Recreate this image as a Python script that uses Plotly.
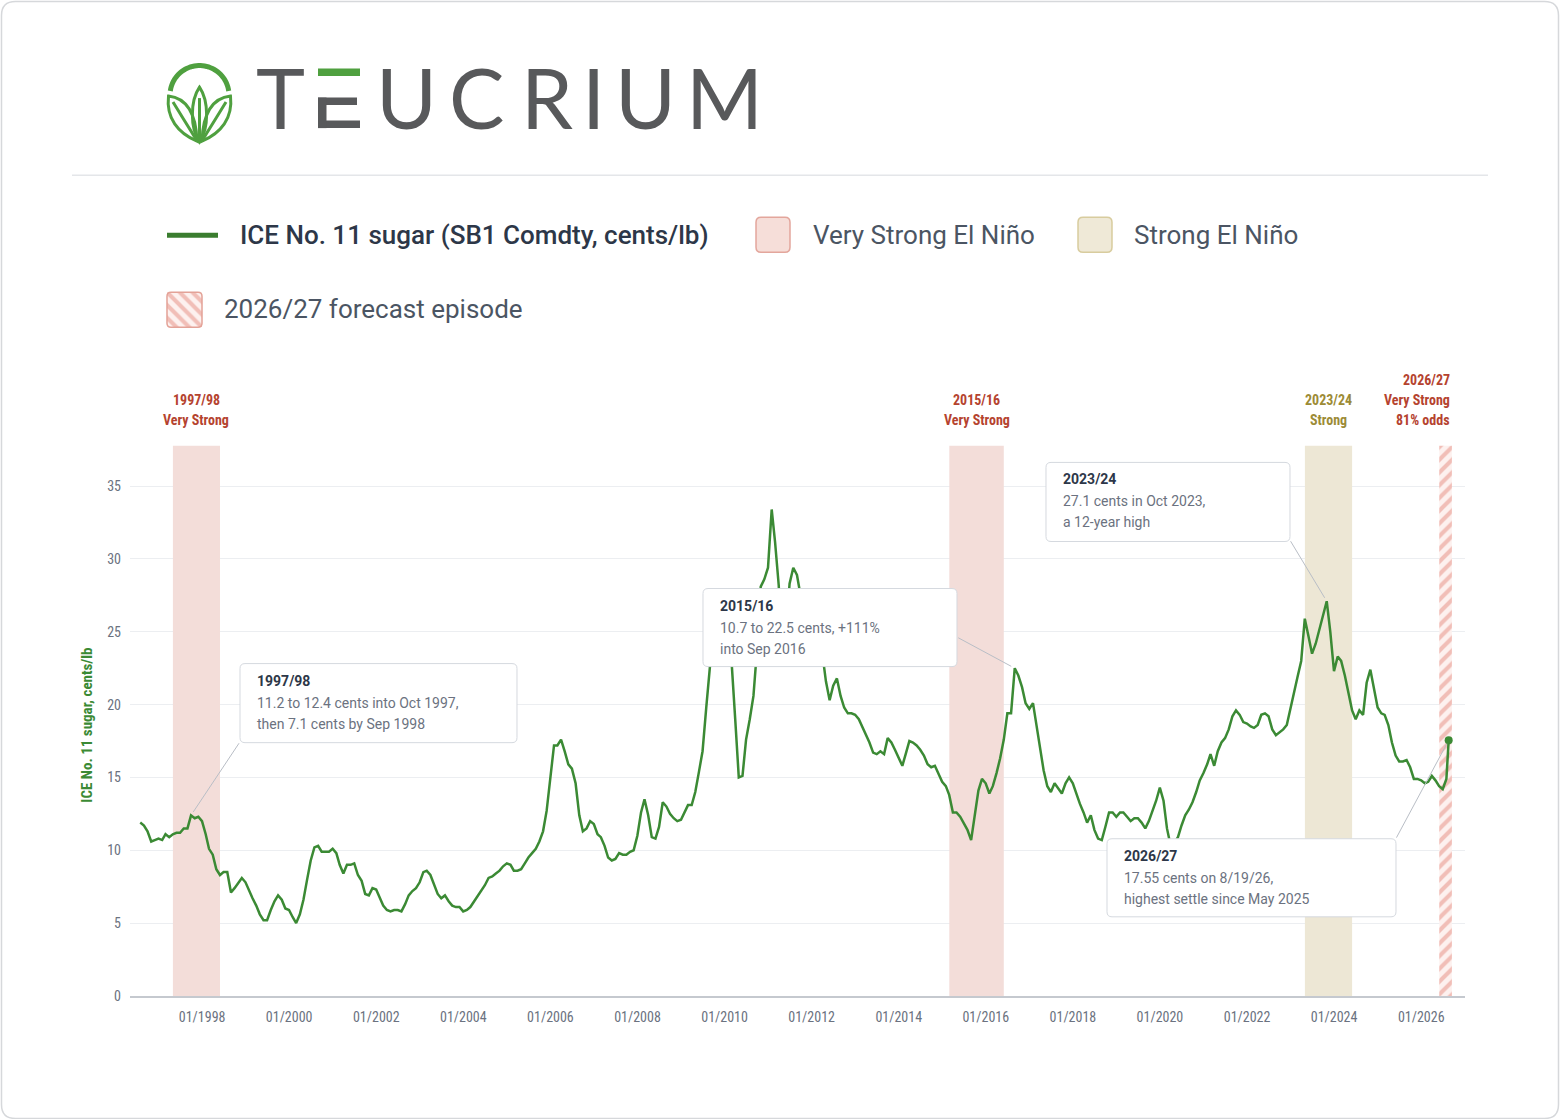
import math
import pandas as pd
import plotly.graph_objects as go

W, H = 1560, 1119
FIG_H = 1128  # the page snapshot comes out about 9px taller than the window; paper coords below use H

# ICE No. 11 sugar, month-end settles (cents/lb), Jul 1996 .. Jul 2026, one row per Jul-Jun crop year
sugar_monthly = [
    11.9, 11.7, 11.3, 10.6, 10.7, 10.8, 10.7, 11.1, 10.9, 11.1, 11.2, 11.2,
    11.5, 11.5, 12.4, 12.2, 12.3, 12.0, 11.1, 10.1, 9.7, 8.7, 8.3, 8.5,
    8.5, 7.1, 7.4, 7.8, 8.1, 7.8, 7.2, 6.7, 6.2, 5.6, 5.2, 5.2,
    5.9, 6.5, 6.9, 6.6, 6.0, 5.9, 5.4, 5.0, 5.6, 6.6, 8.0, 9.3,
    10.2, 10.3, 9.9, 9.9, 9.9, 10.1, 9.8, 9.0, 8.4, 9.0, 9.0, 9.1,
    8.3, 7.9, 7.0, 6.9, 7.4, 7.3, 6.7, 6.2, 5.9, 5.8, 5.9, 5.9,
    5.8, 6.3, 6.9, 7.2, 7.4, 7.8, 8.5, 8.6, 8.3, 7.6, 7.0, 6.7,
    6.9, 6.5, 6.2, 6.1, 6.1, 5.8, 5.9, 6.1, 6.5, 6.8, 7.2, 7.6,
    8.1, 8.2, 8.4, 8.6, 8.9, 9.1, 9.0, 8.6, 8.6, 8.7, 9.1, 9.5,
    9.8, 10.1, 10.6, 11.3, 12.7, 15.0, 17.2, 17.2, 17.6, 16.8, 15.9, 15.6,
    14.6, 12.4, 11.3, 11.5, 12.0, 11.8, 11.1, 10.9, 10.3, 9.5, 9.3, 9.4,
    9.8, 9.7, 9.7, 9.9, 10.0, 11.0, 12.6, 13.5, 12.4, 10.9, 10.8, 11.6,
    13.3, 13.0, 12.5, 12.2, 12.0, 12.1, 12.6, 13.1, 13.1, 14.0, 15.4, 16.8,
    19.8, 22.6, 24.5, 26.0, 27.0, 26.5, 25.0, 23.0, 19.0, 15.0, 15.1, 17.6,
    19.0, 20.6, 23.8, 28.1, 28.6, 29.4, 33.4, 31.2, 28.2, 23.0, 25.0, 28.3,
    29.4, 28.9, 27.5, 26.0, 26.5, 24.0, 23.5, 24.5, 23.5, 21.6, 20.3, 21.3,
    21.8, 20.6, 19.8, 19.4, 19.4, 19.3, 19.0, 18.5, 18.0, 17.4, 16.7, 16.6,
    16.8, 16.6, 17.7, 17.4, 16.9, 16.3, 15.8, 16.6, 17.5, 17.4, 17.2, 16.9,
    16.5, 15.9, 15.7, 15.8, 15.3, 14.7, 14.4, 13.8, 12.6, 12.6, 12.3, 11.9,
    11.4, 10.7, 12.3, 14.1, 14.9, 14.6, 13.9, 14.4, 15.3, 16.3, 17.6, 19.4,
    19.4, 22.5, 22.0, 21.2, 20.1, 19.7, 20.1, 18.6, 16.9, 15.5, 14.4, 14.0,
    14.6, 14.2, 13.9, 14.6, 15.0, 14.6, 13.8, 13.2, 12.6, 11.9, 12.4, 11.4,
    10.8, 10.7, 11.6, 12.6, 12.6, 12.3, 12.6, 12.6, 12.3, 12.0, 12.2, 12.2,
    11.9, 11.5, 12.0, 12.7, 13.4, 14.3, 13.4, 11.5, 10.3, 10.5, 10.9, 11.7,
    12.4, 12.8, 13.3, 14.0, 14.8, 15.3, 15.9, 16.6, 15.8, 16.8, 17.4, 17.7,
    18.3, 19.2, 19.6, 19.3, 18.8, 18.7, 18.5, 18.4, 18.6, 19.3, 19.4, 19.2,
    18.3, 17.9, 18.1, 18.3, 18.6, 19.8, 21.0, 21.9, 23.0, 25.9, 24.7, 23.5,
    24.2, 25.2, 26.2, 27.1, 25.0, 22.3, 23.3, 23.0, 22.0, 20.7, 19.6, 19.0,
    19.6, 19.3, 21.5, 22.4, 21.2, 19.8, 19.4, 19.3, 18.6, 17.4, 16.5, 16.1,
    16.1, 16.2, 15.7, 14.9, 14.9, 14.8, 14.6, 14.7, 15.1, 14.8, 14.4, 14.2,
    14.9,
]
last_settle_date = "2026-08-19"
last_settle = 17.55

# El Nino episodes (start, end, label lines, kind)
episodes = [
    ("1997-05-01", "1998-05-31", ["1997/98", "Very Strong"], "very"),
    ("2015-03-01", "2016-05-31", ["2015/16", "Very Strong"], "very"),
    ("2023-05-01", "2024-05-31", ["2023/24", "Strong"], "strong"),
]
forecast_start, forecast_end = "2026-06-01", "2026-09-15"
forecast_label = ["2026/27", "Very Strong", "81% odds"]

callouts = [
    ("1997-09-30", "1997/98", ["11.2 to 12.4 cents into Oct 1997,", "then 7.1 cents by Sep 1998"]),
    ("2016-08-31", "2015/16", ["10.7 to 22.5 cents, +111%", "into Sep 2016"]),
    ("2023-10-31", "2023/24", ["27.1 cents in Oct 2023,", "a 12-year high"]),
    ("2026-08-19", "2026/27", ["17.55 cents on 8/19/26,", "highest settle since May 2025"]),
]

y_ticks = [0, 5, 10, 15, 20, 25, 30, 35]
Y_TOP = 37.8

dates = list(pd.date_range("1996-08-01", periods=len(sugar_monthly), freq="MS") - pd.Timedelta(days=1))
dates.append(pd.Timestamp(last_settle_date))
values = sugar_monthly + [last_settle]
series = pd.Series(values, index=pd.DatetimeIndex(dates))

GREEN = "#3b8a34"
LOGO_GREEN = "#4fa03f"
LOGO_GREY = "#58595b"
RED = "#b5432f"
OLIVE = "#9c8b36"
COND = "Roboto Condensed, Liberation Sans Narrow, Roboto, sans-serif"
BASE = "Roboto, sans-serif"


def pt(x, y):
    return f"{x / W:.5f},{1 - y / H:.5f}"


def rounded_box(x0, y0, x1, y1, r):
    return (f"M {pt(x0 + r, y0)} L {pt(x1 - r, y0)} Q {pt(x1, y0)} {pt(x1, y0 + r)} "
            f"L {pt(x1, y1 - r)} Q {pt(x1, y1)} {pt(x1 - r, y1)} "
            f"L {pt(x0 + r, y1)} Q {pt(x0, y1)} {pt(x0, y1 - r)} "
            f"L {pt(x0, y0 + r)} Q {pt(x0, y0)} {pt(x0 + r, y0)} Z")


def text(x, y, s, size, color, family=BASE, weight="normal", xanchor="left", xref="paper", **kw):
    return dict(x=x, y=y, xref=xref, yref="paper", text=s, showarrow=False,
                xanchor=xanchor, yanchor="middle",
                font=dict(family=family, size=size, color=color, weight=weight), **kw)


def band(x0, x1, color, pattern=None):
    return go.Scatter(x=[x0, x1, x1, x0, x0], y=[0, 0, Y_TOP, Y_TOP, 0], fill="toself", mode="lines",
                      line=dict(width=0), fillcolor=color, fillpattern=pattern,
                      hoverinfo="skip", showlegend=False)


shapes = []
annotations = []

# card border and header divider
shapes.append(dict(type="path", path=rounded_box(1.5, 1.5, 1558.5, 1117.5, 14), xref="paper", yref="paper",
                   line=dict(color="#d6d8db", width=1.5)))
shapes.append(dict(type="line", xref="paper", yref="paper", x0=72 / W, x1=1488 / W, y0=1 - 175 / H, y1=1 - 175 / H,
                   line=dict(color="#e4e6e9", width=1.5)))

# logo icon: arc + three leaves
cx, cy, r = 199.5, 95.0, 29.5
arc = [(cx + r * math.cos(math.radians(a)), cy - r * math.sin(math.radians(a))) for a in range(8, 173, 4)]
shapes.append(dict(type="path", xref="paper", yref="paper", line=dict(color=LOGO_GREEN, width=5),
                   path="M " + " L ".join(pt(x, y) for x, y in arc)))
leaf_paths = [
    f"M {pt(199.5, 142)} C {pt(190, 128)} {pt(190, 101)} {pt(199.5, 87)} C {pt(209, 101)} {pt(209, 128)} {pt(199.5, 142)} Z",
    f"M {pt(197, 141)} C {pt(178, 133)} {pt(166, 118)} {pt(168.5, 96)} C {pt(186, 98)} {pt(196, 112)} {pt(197, 141)} Z",
    f"M {pt(202, 141)} C {pt(221, 133)} {pt(233, 118)} {pt(230.5, 96)} C {pt(213, 98)} {pt(203, 112)} {pt(202, 141)} Z",
    f"M {pt(199.5, 98)} L {pt(199.5, 140)}",
    f"M {pt(173, 102)} Q {pt(184, 120)} {pt(196, 139)}",
    f"M {pt(226, 102)} Q {pt(215, 120)} {pt(203, 139)}",
]
for p in leaf_paths:
    shapes.append(dict(type="path", xref="paper", yref="paper", path=p, line=dict(color=LOGO_GREEN, width=3)))

# logo "E" drawn as bars (green top bar)
for x0, y0, x1, y1, c in [(318, 68.5, 360, 76, LOGO_GREEN), (318, 97.5, 357, 105, LOGO_GREY),
                          (318, 120.5, 360, 128, LOGO_GREY), (318, 97.5, 326.5, 128, LOGO_GREY)]:
    shapes.append(dict(type="rect", xref="paper", yref="paper", x0=x0 / W, x1=x1 / W, y0=1 - y1 / H, y1=1 - y0 / H,
                       fillcolor=c, line=dict(width=0)))
for ch, xc in [("T", 280), ("U", 406), ("C", 476.5), ("R", 546.5), ("I", 593), ("U", 645), ("M", 724.5)]:
    annotations.append(text(xc / W, 1 - 97 / H, ch, 83, LOGO_GREY, family="Lato, Roboto, sans-serif", xanchor="center"))

# legend
shapes.append(dict(type="line", xref="paper", yref="paper", x0=167 / W, x1=218 / W, y0=1 - 235 / H, y1=1 - 235 / H,
                   line=dict(color="#3a7d2f", width=5)))
annotations.append(text(238 / W, 1 - 235 / H, "ICE No. 11 sugar (SB1 Comdty, cents/lb)", 26, "#2d3748", weight=500))
shapes.append(dict(type="path", xref="paper", yref="paper", path=rounded_box(756, 217, 790, 252, 5),
                   fillcolor="#f6ded9", line=dict(color="#e3a69c", width=1.5)))
annotations.append(text(811 / W, 1 - 235 / H, "Very Strong El Niño", 26, "#4b5563"))
shapes.append(dict(type="path", xref="paper", yref="paper", path=rounded_box(1078, 217, 1112, 252, 5),
                   fillcolor="#efe9d7", line=dict(color="#d8cc9e", width=1.5)))
annotations.append(text(1132 / W, 1 - 235 / H, "Strong El Niño", 26, "#4b5563"))
shapes.append(dict(type="path", xref="paper", yref="paper", path=rounded_box(167, 292, 202, 327, 4),
                   line=dict(color="#e3a297", width=1.5)))
annotations.append(text(222 / W, 1 - 309 / H, "2026/27 forecast episode", 26, "#4b5563"))

# episode labels
band_fill = {"very": "#f3ddd9", "strong": "#ede7d5"}
label_col = {"very": RED, "strong": OLIVE}
for start, end, lines, kind in episodes:
    mid = pd.Timestamp(start) + (pd.Timestamp(end) - pd.Timestamp(start)) / 2
    for i, s in enumerate(lines):
        annotations.append(text(mid, 1 - (400 + 20 * i) / H, s, 14, label_col[kind], family=COND,
                                weight="bold", xanchor="center", xref="x"))
for i, s in enumerate(forecast_label):
    annotations.append(text(forecast_end, 1 - (380 + 20 * i) / H, s, 14, RED, family=COND,
                            weight="bold", xanchor="right", xref="x"))

# callout boxes (pixel boxes) and connectors
boxes = [(240, 663, 517, 742), (703, 588, 957, 666), (1046, 462, 1290, 541), (1107, 838, 1396, 916)]
tails = [(49, -73), (-58, -31), (-37, -61), (-53, 98)]
for (d, title, body), (x0, y0, x1, y1), (ax, ay) in zip(callouts, boxes, tails):
    shapes.append(dict(type="path", xref="paper", yref="paper", path=rounded_box(x0, y0, x1, y1, 5),
                       fillcolor="white", line=dict(color="#d5d9df", width=1), layer="above"))
    annotations.append(text((x0 + 15) / W, 1 - (y0 + 17) / H, title, 14, "#2d3748", weight="bold"))
    for i, s in enumerate(body):
        annotations.append(text((x0 + 15) / W, 1 - (y0 + 39 + 21 * i) / H, s, 14, "#6b7280"))
    annotations.append(dict(x=pd.Timestamp(d), y=series[pd.Timestamp(d)], xref="x", yref="y", text="",
                            showarrow=True, arrowhead=0, arrowwidth=1, arrowcolor="#b9bec6",
                            ax=ax, ay=ay * FIG_H / H, standoff=4))

# y-axis title
annotations.append(dict(x=87 / W, y=1 - 725 / H, xref="paper", yref="paper", text="ICE No. 11 sugar, cents/lb",
                        showarrow=False, textangle=-90, xanchor="center", yanchor="middle",
                        font=dict(family=COND, size=15, color=GREEN, weight="bold")))

hatch = dict(fgcolor="#e58c80", bgcolor="#fdf1ef", size=9, solidity=0.45)

fig = go.Figure()
for start, end, lines, kind in episodes:
    fig.add_trace(band(start, end, band_fill[kind]))
fig.add_trace(band(forecast_start, forecast_end, "#fdf1ef", dict(shape="/", **hatch)))
fig.add_trace(go.Scatter(x=series.index, y=series.values, mode="lines",
                         line=dict(color=GREEN, width=2.5), showlegend=False))
fig.add_trace(go.Scatter(x=[series.index[-1]], y=[series.values[-1]], mode="markers",
                         marker=dict(color=GREEN, size=8), showlegend=False))
# hatched legend swatch
fig.add_trace(go.Scatter(x=[0, 1, 1, 0, 0], y=[0, 0, 1, 1, 0], xaxis="x2", yaxis="y2", fill="toself",
                         mode="lines", line=dict(width=0), fillcolor="#fdf1ef",
                         fillpattern=dict(shape="\\", **hatch),
                         hoverinfo="skip", showlegend=False))

fig.update_layout(
    width=W, height=FIG_H, autosize=False,
    margin=dict(l=0, r=0, t=0, b=0),
    paper_bgcolor="white", plot_bgcolor="white",
    font=dict(family=BASE, color="#6b7280"),
    showlegend=False,
    xaxis=dict(domain=[130 / W, 1465 / W], type="date", range=["1996-05-06", "2027-01-03"],
               tick0="1998-01-01", dtick="M24", tickformat="%m/%Y",
               showgrid=False, zeroline=False, showline=True, linecolor="#c5c9cf", linewidth=2,
               ticks="", ticklabelstandoff=7,
               tickfont=dict(family=COND, size=14, color="#6b7280")),
    yaxis=dict(domain=[1 - 995 / H, 1 - 445 / H], range=[0, Y_TOP], tickvals=y_ticks,
               showgrid=True, gridcolor="#eceef1", gridwidth=1, zeroline=False, showline=False,
               ticks="", ticklabelstandoff=8,
               tickfont=dict(family=COND, size=14, color="#6b7280")),
    xaxis2=dict(domain=[167 / W, 202 / W], range=[0, 1], visible=False, anchor="y2", fixedrange=True),
    yaxis2=dict(domain=[1 - 327 / H, 1 - 292 / H], range=[0, 1], visible=False, anchor="x2", fixedrange=True),
    shapes=shapes,
    annotations=annotations,
)

page_fix = "document.body.style.margin='0';document.body.style.overflow='hidden';"
fig.write_html("out.html", config={"displayModeBar": False}, post_script=page_fix)
